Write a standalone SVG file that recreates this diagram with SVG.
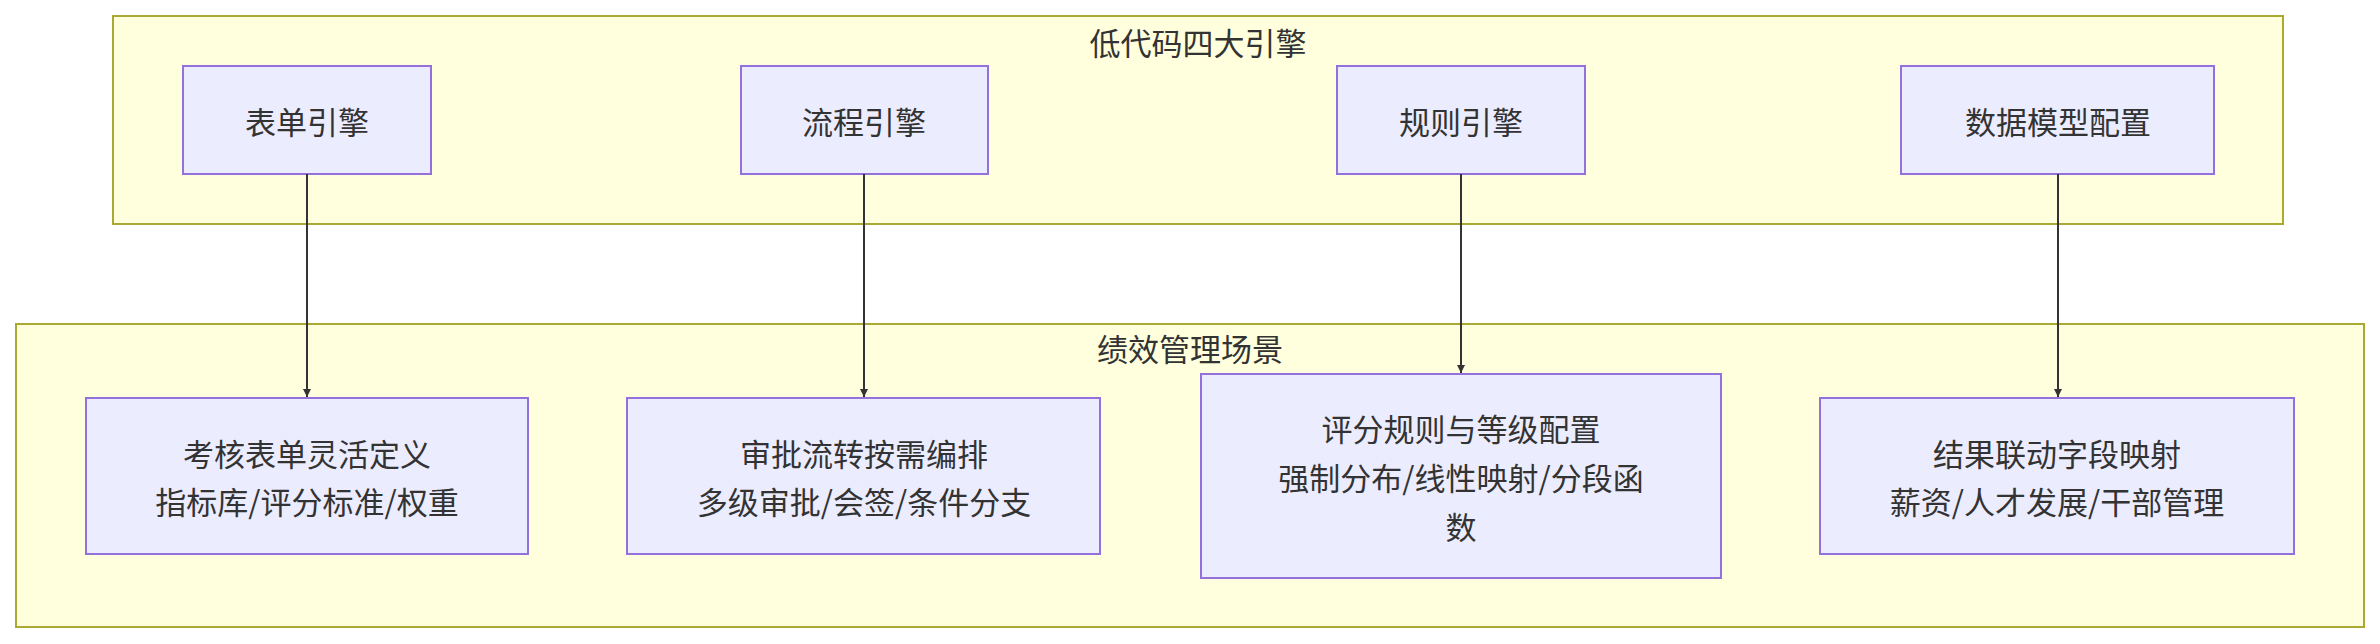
<svg xmlns="http://www.w3.org/2000/svg" width="2380" height="644" viewBox="0 0 2380 644">
<style>
.c{fill:#ffffde;stroke:#aaaa33;stroke-width:2}
.n{fill:#ECECFF;stroke:#9370DB;stroke-width:2}
text{font-family:"Noto Sans CJK SC","Noto Sans",sans-serif;font-size:31px;fill:#333;text-anchor:middle;dominant-baseline:central}
.e{stroke:#333;stroke-width:2;fill:none;marker-end:url(#a)}
</style>
<defs><marker id="a" viewBox="0 0 10 10" refX="10" refY="5" markerWidth="8" markerHeight="8" markerUnits="userSpaceOnUse" orient="auto"><path d="M0,0L10,5L0,10z" fill="#333"/></marker></defs>
<rect width="2380" height="644" fill="#fff"/>
<g id="cluster-engines"><rect class="c" x="113" y="16" width="2170" height="208"/><text x="1198" y="41">低代码四大引擎</text></g>
<g id="cluster-scenes"><rect class="c" x="16" y="324" width="2348" height="303"/><text x="1190" y="347">绩效管理场景</text></g>
<g id="n1"><rect class="n" x="183" y="66" width="248" height="108"/><text x="307" y="120">表单引擎</text></g>
<g id="n2"><rect class="n" x="741" y="66" width="247" height="108"/><text x="864" y="120">流程引擎</text></g>
<g id="n3"><rect class="n" x="1337" y="66" width="248" height="108"/><text x="1461" y="120">规则引擎</text></g>
<g id="n4"><rect class="n" x="1901" y="66" width="313" height="108"/><text x="2058" y="120">数据模型配置</text></g>
<g id="m1"><rect class="n" x="86" y="398" width="442" height="156"/><text x="307" y="452">考核表单灵活定义</text><text x="307" y="500">指标库/评分标准/权重</text></g>
<g id="m2"><rect class="n" x="627" y="398" width="473" height="156"/><text x="864" y="452">审批流转按需编排</text><text x="864" y="500">多级审批/会签/条件分支</text></g>
<g id="m3"><rect class="n" x="1201" y="374" width="520" height="204"/><text x="1461" y="427">评分规则与等级配置</text><text x="1461" y="476">强制分布/线性映射/分段函</text><text x="1461" y="525">数</text></g>
<g id="m4"><rect class="n" x="1820" y="398" width="474" height="156"/><text x="2057" y="452">结果联动字段映射</text><text x="2057" y="500">薪资/人才发展/干部管理</text></g>
<g id="edges">
<path class="e" d="M307,174V397"/>
<path class="e" d="M864,174V397"/>
<path class="e" d="M1461,174V373"/>
<path class="e" d="M2058,174V397"/>
</g>
</svg>
